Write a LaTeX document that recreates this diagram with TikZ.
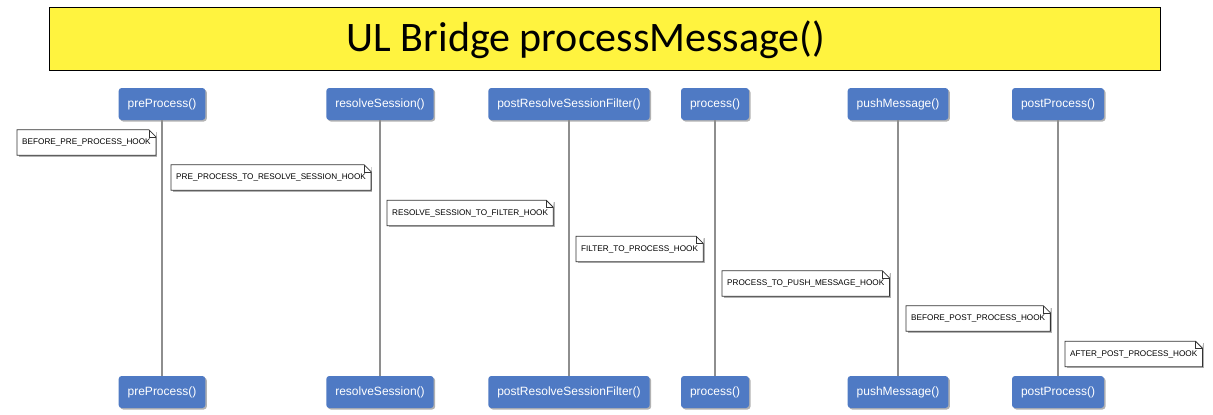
\documentclass[tikz,border=0pt]{standalone}
\usepackage{fontspec}
\setmainfont{Liberation Sans}
\newfontfamily\titlefont{Carlito}
\usetikzlibrary{shadows}
\definecolor{lifeblue}{HTML}{4F7AC4}
\definecolor{titleyellow}{HTML}{FFF33F}
\definecolor{lifegray}{HTML}{8E8E8E}
\begin{document}
\begin{tikzpicture}[x=1pt,y=-1pt,
  actorbox/.style={fill=lifeblue, text=white, rounded corners=3pt, minimum height=32pt, inner xsep=9pt,
    font=\fontsize{12}{14}\selectfont,
    drop shadow={shadow xshift=1.5pt, shadow yshift=-1.5pt, fill=black, opacity=0.3}},
  notebox/.style={fill=white, minimum height=25pt, inner xsep=5pt, anchor=west,
    font=\fontsize{8.2}{10}\selectfont,
    drop shadow={shadow xshift=1.5pt, shadow yshift=-1.5pt, fill=black, opacity=0.3}},
  noteline/.style={draw=black!80, line width=0.8pt},
  lifeline/.style={draw=lifegray, line width=1.4pt}]
\useasboundingbox[fill=white] (0,0) rectangle (1213,415);

% title
\node[draw=black, fill=titleyellow, line width=1pt, minimum width=1111pt, minimum height=63pt, inner sep=0pt] (title) at (604.5,38.5) {};
\node[anchor=base, font=\titlefont\fontsize{42}{50}\selectfont, inner sep=0pt] (titletext) at (586,51) {UL Bridge processMessage()};

% lifeline heads
\foreach \n/\x/\t in {a/162/preProcess(), b/380/resolveSession(), c/569/postResolveSessionFilter(), d/715/process(), e/898/pushMessage(), f/1058/postProcess()}{
  \coordinate (\n x) at (\x,0);
}
\node[actorbox] (at) at (162,104) {preProcess()};
\node[actorbox] (bt) at (380,104) {resolveSession()};
\node[actorbox] (ct) at (569,104) {postResolveSessionFilter()};
\node[actorbox] (dt) at (715,104) {process()};
\node[actorbox] (et) at (898,104) {pushMessage()};
\node[actorbox] (ft) at (1058,104) {postProcess()};
\node[actorbox] (ab) at (162,392) {preProcess()};
\node[actorbox] (bb) at (380,392) {resolveSession()};
\node[actorbox] (cb) at (569,392) {postResolveSessionFilter()};
\node[actorbox] (db) at (715,392) {process()};
\node[actorbox] (eb) at (898,392) {pushMessage()};
\node[actorbox] (fb) at (1058,392) {postProcess()};

% lifelines
\foreach \n in {a,b,c,d,e,f}{
  \draw[lifeline] (\n t.south) -- (\n b.north);
}

% notes
\node[notebox] (n1) at (17,142.5) {BEFORE\_PRE\_PROCESS\_HOOK};
\node[notebox] (n2) at (171,177.5) {PRE\_PROCESS\_TO\_RESOLVE\_SESSION\_HOOK};
\node[notebox] (n3) at (387,213) {RESOLVE\_SESSION\_TO\_FILTER\_HOOK};
\node[notebox] (n4) at (576,249) {FILTER\_TO\_PROCESS\_HOOK};
\node[notebox] (n5) at (722,283.5) {PROCESS\_TO\_PUSH\_MESSAGE\_HOOK};
\node[notebox] (n6) at (906,318.5) {BEFORE\_POST\_PROCESS\_HOOK};
\node[notebox] (n7) at (1065,354) {AFTER\_POST\_PROCESS\_HOOK};
\foreach \n in {n1,n2,n3,n4,n5,n6,n7}{
  \fill[white] ([xshift=-7pt]\n.north east) -- ([yshift=-7pt]\n.north east) -- ([xshift=0.5pt,yshift=0.5pt]\n.north east) -- cycle;
  \draw[noteline] (\n.south west) -- (\n.north west) -- ([xshift=-7pt]\n.north east)
    -- ([yshift=-7pt]\n.north east) -- (\n.south east) -- cycle;
  \draw[noteline, line width=0.6pt] ([xshift=-7pt]\n.north east) -- ([xshift=-7pt,yshift=-7pt]\n.north east) -- ([yshift=-7pt]\n.north east);
}
\end{tikzpicture}
\end{document}
